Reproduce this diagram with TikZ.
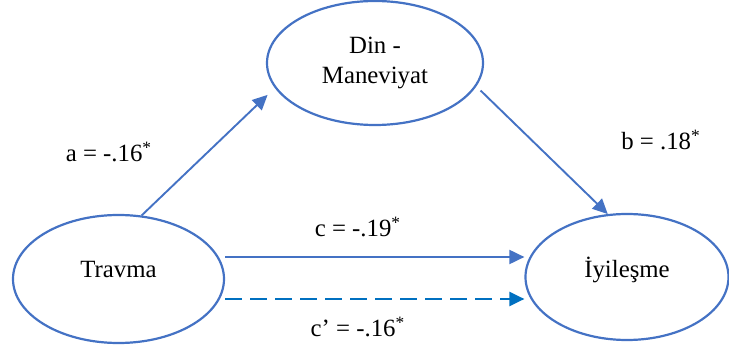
\documentclass[tikz,border=0pt]{standalone}
\usepackage{fontspec}
\setmainfont{Liberation Serif}
\usepackage{xcolor}
\usepackage{tikz}
\usetikzlibrary{arrows.meta,shapes.geometric}

\definecolor{linkblue}{HTML}{4472C4}
\definecolor{dashblue}{HTML}{0070C0}

\begin{document}
\begin{tikzpicture}[x=0.5pt, y={(0pt,-0.5pt)}, >={Triangle[length=7.5pt,width=7pt]},
                    font=\fontsize{12.4}{15}\selectfont]
  \tikzstyle{vbox}=[ellipse, draw=linkblue, line width=1.1pt, inner sep=0pt,
                    align=center]
  \tikzstyle{arr}=[->, draw=linkblue, line width=0.95pt]
  \tikzstyle{darr}=[->, draw=dashblue, line width=1.1pt, dash pattern=on 8.5pt off 4pt]
  \tikzstyle{coef}=[anchor=base]

  \useasboundingbox (0,0) rectangle (729,347);

  \node[vbox, minimum width=108pt, minimum height=62pt] at (375,63) (din) {Din -\\Maneviyat};
  \node[vbox, minimum width=105.5pt, minimum height=64pt, text depth=9.5pt] at (118.5,279) (travma) {Travma};
  \node[vbox, minimum width=101.5pt, minimum height=63pt, text depth=10pt] at (627,277) (iyi) {İyileşme};

  \draw[arr, shorten >=5pt] (travma.70) -- (din.194);
  \draw[arr, shorten <=3pt] (din.-13) -- (iyi.107);
  \draw[arr]  ([yshift=11pt]travma.east)  -- ([yshift=11pt]travma.east -| iyi.west);
  \draw[darr] ([yshift=-10pt]travma.east) -- ([yshift=-10pt]travma.east -| iyi.west);

  \node[coef] at (109,162) (alab)  {a = -.16\textsuperscript{*}};
  \node[coef] at (661,150) (blab)  {b = .18\textsuperscript{*}};
  \node[coef] at (358,237) (clab)  {c = -.19\textsuperscript{*}};
  \node[coef] at (358,337) (cplab) {c’ = -.16\textsuperscript{*}};
\end{tikzpicture}
\end{document}
